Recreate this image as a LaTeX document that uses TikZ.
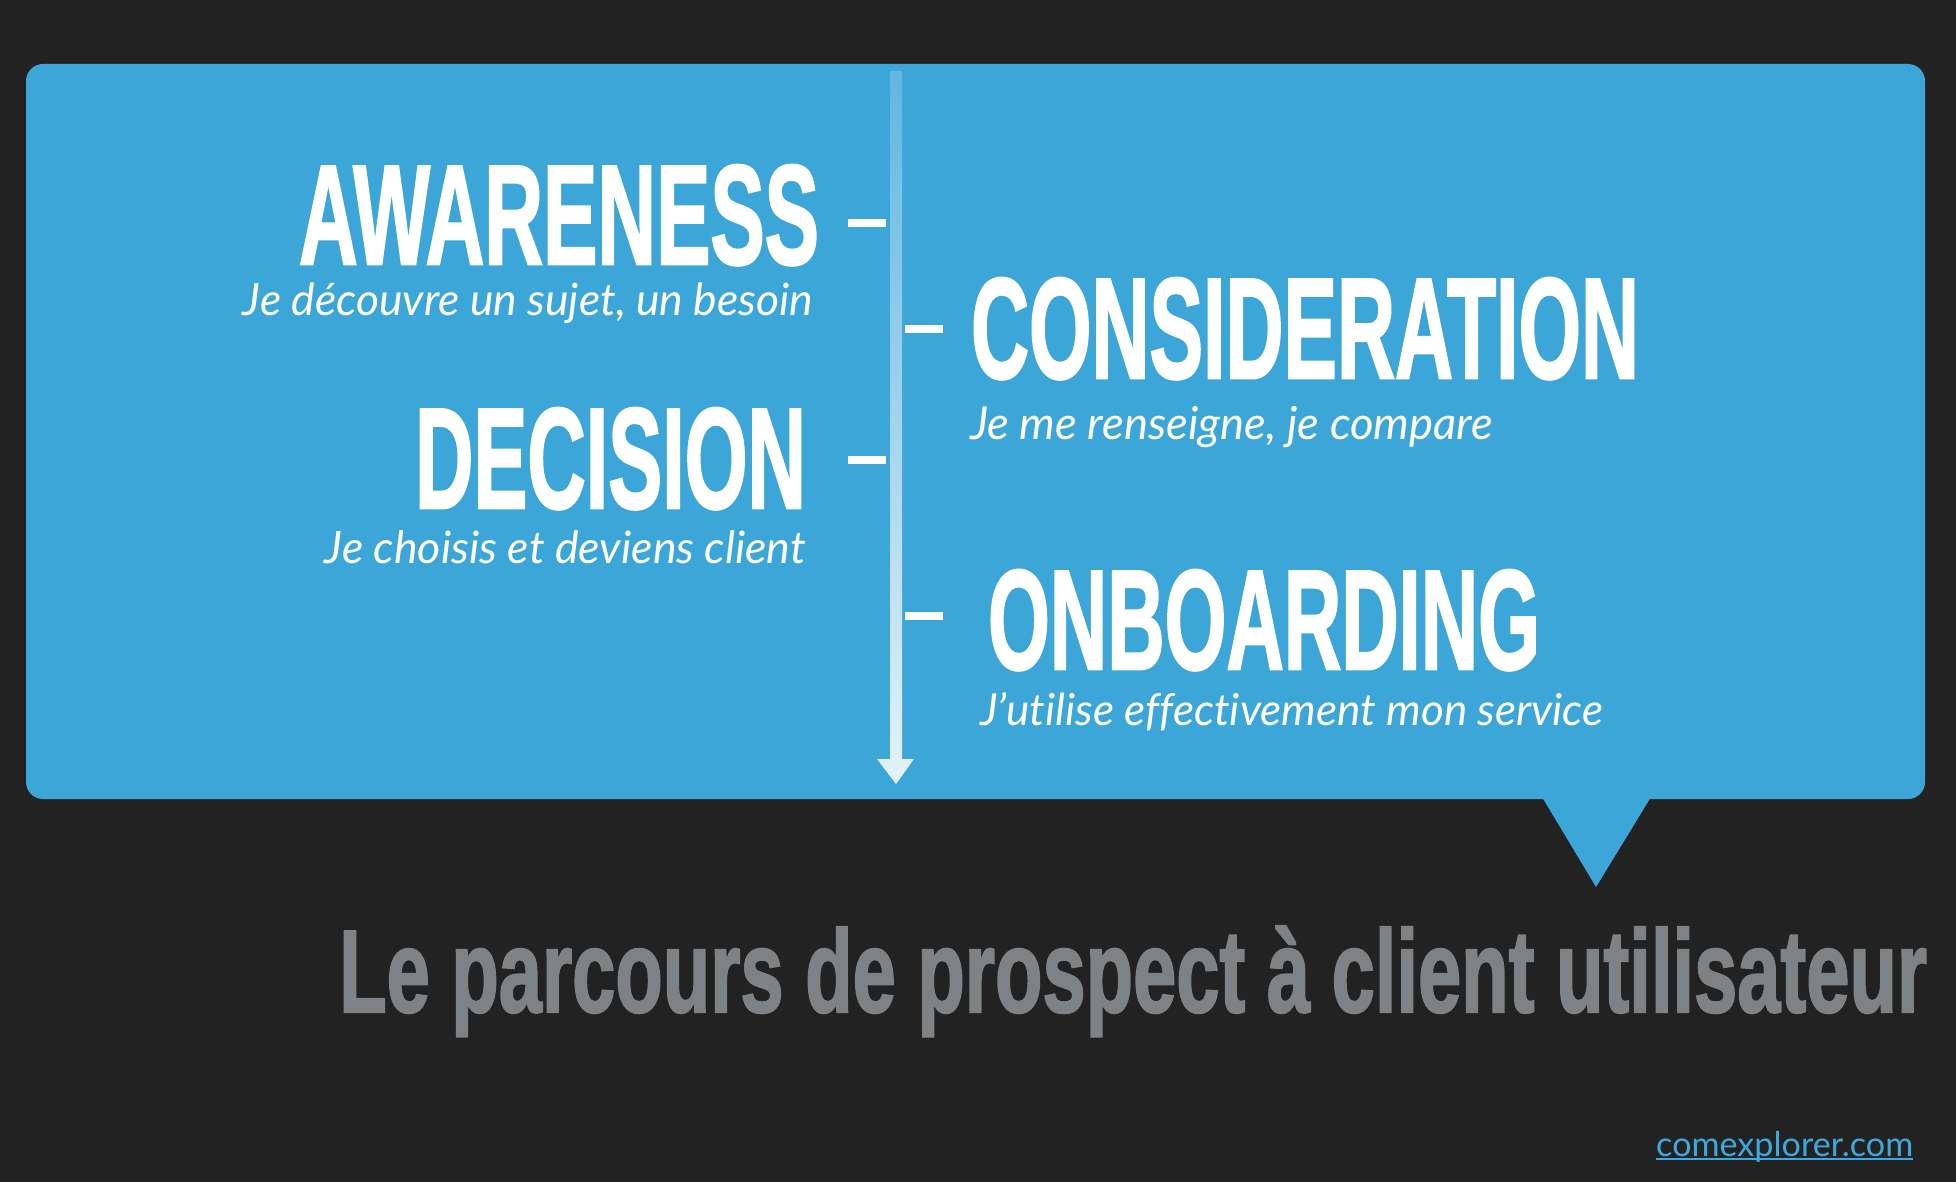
\documentclass[tikz,border=0pt]{standalone}
\usepackage{fontspec}
\usepackage{graphicx}
\newfontfamily\dinfont[FakeBold=2]{Liberation Sans}
\newfontfamily\avfont[Ligatures=NoCommon]{Lato}
\definecolor{bg}{HTML}{222222}
\definecolor{boxblue}{HTML}{3CA6D8}
\definecolor{titlegrey}{HTML}{7F8284}
\definecolor{linkblue}{HTML}{3EA8DC}
\definecolor{arrowtop}{HTML}{62B6E1}
\definecolor{arrowbot}{HTML}{E4F2FA}
\newcommand{\bigword}[3]{\resizebox{#1pt}{#2pt}{\dinfont\bfseries\fontsize{140}{140}\selectfont #3}}
\newcommand{\subline}[2]{\resizebox{#1pt}{!}{\avfont\itshape\fontsize{38}{38}\selectfont #2}}
\begin{document}
\begin{tikzpicture}[x=1pt,y=-1pt,
  stage/.style={inner sep=0pt, outer sep=0pt, text=white},
  subtxt/.style={inner sep=0pt, outer sep=0pt, text=white},
  dashbar/.style={fill=white, draw=none, inner sep=0pt, minimum width=38pt, minimum height=8pt},
]
% background
\fill[bg] (0,0) rectangle (1956,1182);
\useasboundingbox (0,0) rectangle (1956,1182);
% speech box
\fill[boxblue, rounded corners=17pt] (26,64) rectangle (1925,799);
\fill[boxblue] (1542,797) -- (1651,797) -- (1596,887) -- cycle;
% arrow
\shade[top color=arrowtop, bottom color=arrowbot]
  (890,71) -- (902,71) -- (902,759) -- (914,759) -- (896,784) -- (877,759) -- (890,759) -- cycle;
% stages
\node[stage, anchor=base east] (aw) at (819,264) {\bigword{520}{99}{AWARENESS}};
\node[subtxt, anchor=base east] (aws) at (813,315) {\subline{570}{Je découvre un sujet, un besoin}};
\node[dashbar] (awd) at (867,223.5) {};

\node[stage, anchor=base west] (co) at (971,378) {\bigword{668}{100}{CONSIDERATION}};
\node[subtxt, anchor=base west] (cos) at (970,439) {\subline{523}{Je me renseigne, je compare}};
\node[dashbar] (cod) at (924,329) {};

\node[stage, anchor=base east] (de) at (806,508) {\bigword{391}{100}{DECISION}};
\node[subtxt, anchor=base east] (des) at (806,563) {\subline{481}{Je choisis et deviens client}};
\node[dashbar] (ded) at (867,459.5) {};

\node[stage, anchor=base west] (on) at (988,669) {\bigword{552}{99}{ONBOARDING}};
\node[subtxt, anchor=base west] (ons) at (980,725) {\subline{623}{J’utilise effectivement mon service}};
\node[dashbar] (ond) at (924,616) {};

% title
\node[inner sep=0pt, anchor=base west, text=titlegrey] (title) at (339,1012) {\bigword{1588}{86}{Le parcours de prospect à client utilisateur}};
% link
\node[inner sep=0pt, anchor=base west, text=linkblue] (link) at (1656,1156) {\resizebox{257pt}{!}{\avfont\fontsize{36}{36}\selectfont comexplorer.com}};
\draw[linkblue, line width=2pt] ([yshift=-3pt]link.base west) -- ([yshift=-3pt]link.base east);
\end{tikzpicture}
\end{document}
